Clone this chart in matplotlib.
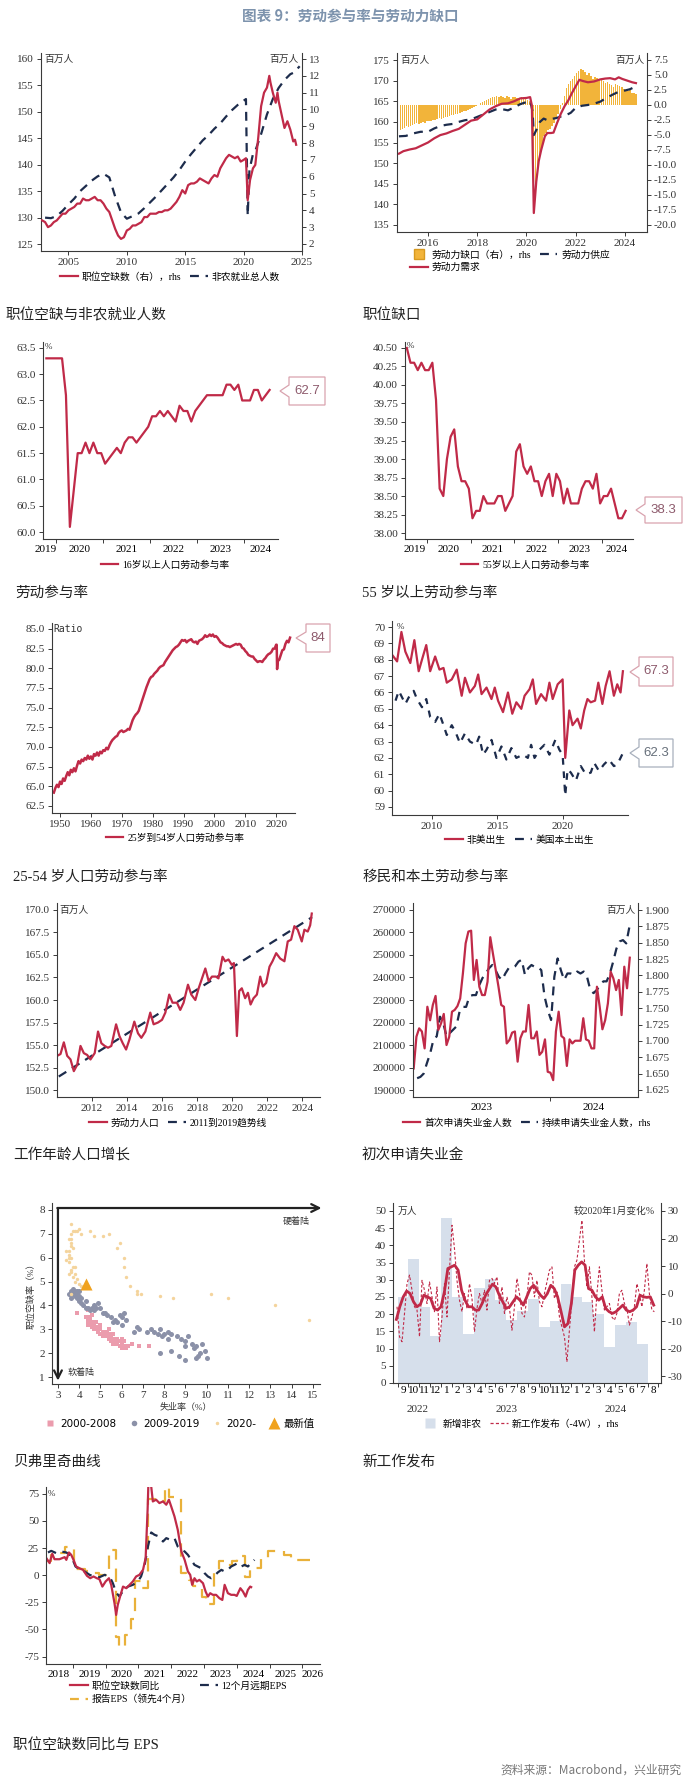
import numpy as np
import matplotlib
matplotlib.use('Agg')
import matplotlib.pyplot as plt
from matplotlib.lines import Line2D
from matplotlib.patches import Polygon

plt.rcParams['font.family'] = ['Liberation Serif', 'Noto Sans CJK SC']
plt.rcParams['axes.unicode_minus'] = False

W, H = 700, 1786
RED = '#c02a48'
NAVY = '#1d2c4c'
ORANGE = '#f0b030'
SPINE = '#3a3a3a'
PINK_EDGE = '#d9a3ae'

# ---------------- data ----------------
# panel 1: job openings (rhs) and nonfarm payrolls, millions
job_openings = [(2002.75, 3.4), (2003.0, 3.3), (2003.25, 3.0), (2003.5, 3.1), (2003.75, 3.3), (2004.0, 3.4),
                (2004.25, 3.6), (2004.5, 3.8), (2004.75, 3.8), (2005.0, 4.0), (2005.25, 4.1), (2005.5, 4.2),
                (2005.75, 4.4), (2006.0, 4.4), (2006.25, 4.7), (2006.5, 4.6), (2006.75, 4.6), (2007.0, 4.7),
                (2007.25, 4.8), (2007.5, 4.6), (2007.75, 4.6), (2008.0, 4.4), (2008.25, 4.1), (2008.5, 3.9),
                (2008.75, 3.4), (2009.0, 2.9), (2009.25, 2.5), (2009.5, 2.3), (2009.75, 2.4), (2010.0, 2.8),
                (2010.25, 2.9), (2010.5, 3.1), (2010.75, 3.1), (2011.0, 3.2), (2011.25, 3.3), (2011.5, 3.6),
                (2011.75, 3.6), (2012.0, 3.8), (2012.25, 3.8), (2012.5, 3.8), (2012.75, 3.9), (2013.0, 3.9),
                (2013.25, 4.0), (2013.5, 4.0), (2013.75, 4.1), (2014.0, 4.3), (2014.25, 4.5), (2014.5, 4.8),
                (2014.75, 5.2), (2015.0, 5.0), (2015.25, 5.5), (2015.5, 5.6), (2015.75, 5.6), (2016.0, 5.7),
                (2016.25, 5.9), (2016.5, 5.8), (2016.75, 5.7), (2017.0, 5.6), (2017.25, 5.9), (2017.5, 6.1),
                (2017.75, 6.0), (2018.0, 6.5), (2018.25, 6.8), (2018.5, 7.1), (2018.75, 7.3), (2019.0, 7.2),
                (2019.25, 7.1), (2019.5, 7.2), (2019.75, 6.9), (2020.0, 7.0), (2020.2, 7.1), (2020.35, 4.6),
                (2020.55, 5.8), (2020.8, 6.5), (2021.0, 6.7), (2021.25, 8.3), (2021.5, 10.2), (2021.75, 11.0),
                (2022.0, 11.3), (2022.2, 12.0), (2022.3, 11.6), (2022.5, 11.0), (2022.75, 10.4), (2022.9, 11.0),
                (2023.0, 10.5), (2023.25, 9.7), (2023.5, 8.9), (2023.75, 9.3), (2024.0, 8.8), (2024.25, 8.1),
                (2024.4, 8.2), (2024.5, 7.9)]
payrolls = [(2003.0, 130.0), (2003.5, 129.9), (2004.0, 130.3), (2004.5, 131.3), (2005.0, 132.5), (2005.5, 133.6),
            (2006.0, 135.0), (2006.5, 136.0), (2007.0, 137.0), (2007.5, 137.8), (2008.0, 138.3), (2008.5, 137.6),
            (2009.0, 134.0), (2009.5, 131.0), (2010.0, 129.8), (2010.5, 130.3), (2011.0, 130.8), (2011.5, 131.8),
            (2012.0, 132.9), (2012.5, 134.0), (2013.0, 135.2), (2013.5, 136.4), (2014.0, 137.6), (2014.5, 139.0),
            (2015.0, 140.6), (2015.5, 142.0), (2016.0, 143.3), (2016.5, 144.6), (2017.0, 145.6), (2017.5, 146.8),
            (2018.0, 147.8), (2018.5, 149.1), (2019.0, 150.3), (2019.5, 151.3), (2020.2, 152.4), (2020.35, 130.4),
            (2020.5, 139.0), (2020.8, 142.0), (2021.0, 142.6), (2021.5, 145.8), (2022.0, 149.5), (2022.5, 152.4),
            (2023.0, 154.5), (2023.5, 156.0), (2024.0, 157.1), (2024.3, 157.4), (2024.8, 158.6)]

# panel 2: labour demand / supply (millions) and monthly gap (rhs) from Nov 2014
labour_demand = [(2014.82, 152.3), (2015.0, 152.9), (2015.25, 153.3), (2015.5, 153.6), (2015.75, 154.3),
                 (2016.0, 155.0), (2016.25, 156.0), (2016.5, 156.8), (2016.75, 157.2), (2017.0, 157.8),
                 (2017.25, 158.3), (2017.5, 159.3), (2017.75, 160.3), (2018.0, 160.6), (2018.25, 161.8),
                 (2018.5, 163.0), (2018.75, 163.8), (2019.0, 164.4), (2019.25, 164.5), (2019.5, 165.0),
                 (2019.75, 165.7), (2020.0, 165.8), (2020.15, 166.0), (2020.22, 164.0), (2020.3, 137.9),
                 (2020.4, 145.5), (2020.5, 150.5), (2020.6, 153.2), (2020.75, 156.5), (2020.85, 157.3),
                 (2021.0, 157.3), (2021.1, 157.4), (2021.25, 159.8), (2021.4, 162.0), (2021.55, 163.8),
                 (2021.7, 165.2), (2021.85, 167.0), (2022.0, 168.6), (2022.15, 170.2), (2022.3, 169.9),
                 (2022.5, 169.6), (2022.75, 169.8), (2023.0, 170.3), (2023.2, 170.5), (2023.4, 170.6),
                 (2023.6, 170.3), (2023.75, 170.8), (2023.9, 170.4), (2024.1, 170.0), (2024.3, 169.6),
                 (2024.45, 169.4)]
labour_supply = [(2014.82, 156.5), (2015.1, 156.6), (2015.4, 157.2), (2015.7, 157.6), (2016.0, 157.6),
                 (2016.25, 158.4), (2016.5, 159.0), (2016.75, 159.3), (2017.0, 159.5), (2017.25, 160.0),
                 (2017.5, 160.4), (2017.75, 160.6), (2018.0, 161.2), (2018.25, 161.8), (2018.5, 162.4),
                 (2018.75, 163.0), (2019.0, 163.1), (2019.25, 162.8), (2019.5, 163.5), (2019.75, 164.3),
                 (2020.0, 164.8), (2020.15, 165.2), (2020.25, 162.5), (2020.3, 156.8), (2020.4, 158.0),
                 (2020.55, 160.0), (2020.7, 160.8), (2020.85, 160.4), (2021.0, 160.7), (2021.2, 160.9),
                 (2021.4, 161.3), (2021.6, 161.6), (2021.8, 162.2), (2022.0, 163.4), (2022.25, 163.9),
                 (2022.5, 164.1), (2022.75, 164.4), (2023.0, 164.9), (2023.25, 165.8), (2023.5, 166.6),
                 (2023.75, 167.3), (2024.0, 167.6), (2024.2, 167.9), (2024.45, 168.6)]
labour_gap = [-4.3, -4.0,
              -3.9, -3.6, -3.8, -3.5, -3.4, -3.3, -3.1, -3.2, -3.0, -2.9, -3.0, -2.8,
              -2.8, -2.7, -2.5, -2.6, -2.4, -2.3, -2.4, -2.2, -2.0, -2.1, -1.9, -1.8,
              -1.7, -1.6, -1.5, -1.4, -1.3, -1.1, -1.0, -0.9, -0.8, -0.6, -0.4, -0.3,
              0.0, 0.2, 0.4, 0.6, 0.8, 1.0, 1.1, 1.2, 1.3, 1.4, 1.2, 1.5,
              1.3, 1.1, 1.4, 1.2, 1.0, 1.3, 1.2, 1.1, 1.0, 1.2, 1.0, 0.9,
              0.8, 0.6, -1.5, -18.0, -14.5, -11.0, -8.5, -6.8, -5.2, -4.8, -4.2, -4.0,
              -3.6, -3.0, -2.2, -1.5, -0.8, 0.3, 1.5, 2.8, 3.5, 4.0, 4.3, 4.8,
              5.2, 5.6, 6.0, 5.8, 5.4, 5.0, 5.2, 4.8, 4.2, 4.6, 4.4, 4.1,
              4.3, 4.0, 3.6, 3.8, 3.4, 3.2, 3.0, 3.4, 3.3, 3.1, 2.9, 2.6,
              2.5, 2.2, 2.4, 2.0, 1.9, 1.7]

# panel 3: participation rate 16+, monthly from Oct 2019
lfpr_16 = [63.3, 63.3, 63.3,
           63.3, 63.3, 62.6, 60.1, 60.8, 61.5, 61.5, 61.7, 61.5, 61.7, 61.5, 61.5,
           61.3, 61.4, 61.5, 61.6, 61.5, 61.7, 61.8, 61.8, 61.7, 61.8, 61.9, 62.0,
           62.2, 62.2, 62.3, 62.2, 62.3, 62.2, 62.1, 62.4, 62.3, 62.3, 62.1, 62.3,
           62.4, 62.5, 62.6, 62.6, 62.6, 62.6, 62.6, 62.8, 62.8, 62.7, 62.8, 62.5,
           62.5, 62.5, 62.7, 62.7, 62.5, 62.6, 62.7]

# panel 4: participation rate 55+, monthly from Jul 2019
lfpr_55 = [40.5, 40.3, 40.3, 40.2, 40.3, 40.2,
           40.2, 40.3, 39.8, 38.6, 38.5, 39.0, 39.3, 39.4, 38.9, 38.7, 38.7, 38.6,
           38.2, 38.3, 38.3, 38.5, 38.4, 38.4, 38.4, 38.5, 38.5, 38.3, 38.4, 38.5,
           39.1, 39.2, 38.9, 38.8, 38.9, 38.7, 38.7, 38.5, 38.7, 38.8, 38.5, 38.8,
           38.7, 38.4, 38.6, 38.4, 38.4, 38.4, 38.6, 38.7, 38.7, 38.6, 38.8, 38.4,
           38.5, 38.5, 38.6, 38.4, 38.2, 38.2, 38.3]

# panel 5: prime-age (25-54) participation rate
lfpr_prime = [(1948.0, 64.2), (1948.5, 64.8), (1949.0, 65.2), (1949.5, 64.9), (1950.0, 65.6), (1950.5, 65.3),
              (1951.0, 66.0), (1951.5, 65.7), (1952.0, 66.3), (1952.5, 66.8), (1953.0, 66.4), (1953.5, 67.1),
              (1954.0, 66.8), (1954.5, 67.3), (1955.0, 66.9), (1955.5, 67.6), (1956.0, 68.2), (1956.5, 67.9),
              (1957.0, 68.4), (1957.5, 68.2), (1958.0, 68.6), (1958.5, 68.4), (1959.0, 68.9), (1959.5, 68.5),
              (1960.0, 68.8), (1960.5, 68.4), (1961.0, 69.1), (1961.5, 68.9), (1962.0, 69.3), (1962.5, 68.9),
              (1963.0, 69.4), (1963.5, 69.2), (1964.0, 69.6), (1964.5, 69.5), (1965.0, 69.9), (1965.5, 69.7),
              (1966.0, 70.2), (1966.5, 70.6), (1967.0, 70.9), (1967.5, 71.1), (1968.0, 71.3), (1968.5, 71.4),
              (1969.0, 71.8), (1969.5, 72.0), (1970.0, 72.1), (1970.5, 71.9), (1971.0, 72.0), (1971.5, 72.1),
              (1972.0, 72.3), (1972.5, 72.2), (1973.0, 72.8), (1973.5, 73.4), (1974.0, 73.8), (1974.5, 74.1),
              (1975.0, 74.3), (1975.5, 74.6), (1976.0, 75.2), (1976.5, 75.8), (1977.0, 76.4), (1977.5, 77.0),
              (1978.0, 77.6), (1978.5, 78.1), (1979.0, 78.6), (1979.5, 78.9), (1980.0, 79.0), (1980.5, 79.3),
              (1981.0, 79.5), (1981.5, 79.7), (1982.0, 80.0), (1982.5, 80.2), (1983.0, 80.3), (1983.5, 80.4),
              (1984.0, 80.8), (1984.5, 81.1), (1985.0, 81.4), (1985.5, 81.7), (1986.0, 82.0), (1986.5, 82.3),
              (1987.0, 82.5), (1987.5, 82.7), (1988.0, 82.8), (1988.5, 83.0), (1989.0, 83.3), (1989.5, 83.6),
              (1990.0, 83.5), (1990.5, 83.6), (1991.0, 83.3), (1991.5, 83.5), (1992.0, 83.6), (1992.5, 83.7),
              (1993.0, 83.4), (1993.5, 83.3), (1994.0, 83.4), (1994.5, 83.1), (1995.0, 83.5), (1995.5, 83.6),
              (1996.0, 83.7), (1996.5, 83.9), (1997.0, 84.2), (1997.5, 84.0), (1998.0, 84.1), (1998.5, 84.3),
              (1999.0, 84.1), (1999.5, 84.3), (2000.0, 84.0), (2000.5, 84.1), (2001.0, 83.9), (2001.5, 83.6),
              (2002.0, 83.3), (2002.5, 83.2), (2003.0, 83.0), (2003.5, 82.9), (2004.0, 82.8), (2004.5, 82.8),
              (2005.0, 82.7), (2005.5, 82.8), (2006.0, 82.9), (2006.5, 83.0), (2007.0, 83.1), (2007.5, 83.0),
              (2008.0, 83.1), (2008.5, 83.0), (2009.0, 82.6), (2009.5, 82.5), (2010.0, 82.2), (2010.5, 82.0),
              (2011.0, 81.7), (2011.5, 81.6), (2012.0, 81.5), (2012.5, 81.5), (2013.0, 81.2), (2013.5, 81.0),
              (2014.0, 80.8), (2014.5, 80.9), (2015.0, 80.9), (2015.5, 80.8), (2016.0, 81.1), (2016.5, 81.3),
              (2017.0, 81.6), (2017.5, 81.8), (2018.0, 81.9), (2018.5, 82.1), (2019.0, 82.5), (2019.5, 82.5),
              (2020.0, 83.0), (2020.17, 83.0), (2020.3, 79.9), (2020.5, 80.9), (2021.0, 81.1), (2021.5, 81.7),
              (2022.0, 82.3), (2022.5, 82.4), (2023.0, 83.1), (2023.5, 83.5), (2024.0, 83.3), (2024.5, 83.9)]

# panel 6: foreign-born vs native-born participation rate
foreign_born = [(2006.96, 68.3), (2007.34, 67.9), (2007.67, 69.7), (2007.97, 68.5), (2008.35, 67.8), (2008.66, 69.2),
                (2008.99, 67.3), (2009.24, 68.0), (2009.57, 68.9), (2009.87, 67.3), (2010.25, 68.2), (2010.58, 67.4),
                (2010.89, 67.5), (2011.14, 66.6), (2011.52, 66.8), (2011.90, 67.4), (2012.28, 65.8), (2012.53, 66.9),
                (2012.91, 66.0), (2013.29, 66.4), (2013.54, 67.1), (2013.80, 65.9), (2014.18, 66.3), (2014.56, 65.6),
                (2014.81, 66.3), (2015.06, 65.5), (2015.44, 64.8), (2015.82, 66.0), (2016.15, 64.7), (2016.46, 65.4),
                (2016.84, 65.0), (2017.09, 65.8), (2017.47, 66.2), (2017.72, 66.8), (2017.97, 65.3), (2018.35, 65.9),
                (2018.73, 65.5), (2018.99, 66.6), (2019.24, 65.6), (2019.62, 66.5), (2020.00, 66.8), (2020.20, 62.0),
                (2020.51, 64.9), (2020.76, 64.0), (2021.14, 64.4), (2021.39, 63.8), (2021.65, 64.9), (2021.90, 65.6),
                (2022.15, 65.4), (2022.48, 65.5), (2022.73, 66.6), (2023.04, 65.3), (2023.29, 66.4), (2023.59, 67.3),
                (2023.92, 65.8), (2024.18, 66.5), (2024.43, 66.0), (2024.61, 67.3)]
native_born = [(2007.22, 65.5), (2007.47, 66.1), (2007.72, 65.7), (2007.97, 65.3), (2008.23, 65.7), (2008.61, 66.1),
               (2008.86, 65.6), (2009.24, 65.1), (2009.57, 65.6), (2009.87, 64.5), (2010.25, 64.2), (2010.58, 64.7),
               (2010.89, 64.0), (2011.14, 63.4), (2011.52, 64.0), (2011.85, 63.5), (2012.15, 62.9), (2012.53, 63.5),
               (2012.91, 63.0), (2013.37, 62.8), (2013.62, 63.3), (2013.92, 62.2), (2014.18, 62.5), (2014.56, 63.1),
               (2014.94, 62.0), (2015.32, 62.7), (2015.70, 61.9), (2016.08, 62.6), (2016.46, 62.0), (2016.96, 62.2),
               (2017.34, 62.0), (2017.59, 62.8), (2017.85, 62.0), (2018.23, 62.5), (2018.61, 62.8), (2018.99, 62.2),
               (2019.44, 63.1), (2019.75, 62.5), (2020.00, 62.2), (2020.20, 59.7), (2020.38, 61.3), (2020.63, 61.1),
               (2021.01, 60.6), (2021.39, 61.5), (2021.77, 61.0), (2022.15, 61.1), (2022.41, 61.7), (2022.78, 61.2),
               (2023.16, 61.6), (2023.54, 61.9), (2023.92, 61.5), (2024.18, 61.6), (2024.43, 62.0), (2024.61, 62.3)]

# panel 7: labour force (millions) and 2011-2019 trend line end points
labour_force = [(2010.01, 153.8), (2010.20, 154.0), (2010.39, 155.3), (2010.58, 153.8), (2010.77, 153.4),
                (2010.96, 152.1), (2011.15, 152.8), (2011.34, 154.9), (2011.53, 154.1), (2011.72, 153.9),
                (2011.91, 153.4), (2012.15, 154.1), (2012.34, 156.5), (2012.53, 155.2), (2012.72, 154.9),
                (2012.91, 154.7), (2013.10, 154.9), (2013.37, 157.3), (2013.56, 156.0), (2013.75, 155.2),
                (2013.94, 154.5), (2014.13, 155.6), (2014.41, 157.6), (2014.62, 156.3), (2014.81, 155.8),
                (2015.04, 156.5), (2015.32, 158.6), (2015.51, 157.3), (2015.76, 157.5), (2015.99, 157.8),
                (2016.18, 158.6), (2016.40, 160.6), (2016.59, 159.7), (2016.84, 159.7), (2017.03, 158.9),
                (2017.22, 159.7), (2017.47, 161.7), (2017.66, 160.6), (2017.89, 160.0), (2018.08, 161.3),
                (2018.46, 163.5), (2018.65, 162.1), (2018.84, 162.6), (2019.06, 162.6), (2019.21, 162.4),
                (2019.44, 164.8), (2019.59, 164.3), (2019.78, 164.5), (2019.97, 163.9), (2020.09, 164.1),
                (2020.26, 156.0), (2020.39, 161.0), (2020.54, 161.3), (2020.73, 160.2), (2020.89, 160.8),
                (2021.04, 159.5), (2021.21, 160.2), (2021.40, 160.6), (2021.59, 162.6), (2021.74, 161.5),
                (2021.93, 161.9), (2022.12, 163.7), (2022.29, 164.3), (2022.50, 165.2), (2022.73, 164.6),
                (2022.97, 164.3), (2023.16, 166.5), (2023.35, 166.7), (2023.54, 168.2), (2023.73, 167.8),
                (2023.96, 166.5), (2024.11, 167.8), (2024.30, 167.6), (2024.44, 168.3), (2024.53, 169.6)]
trend_line = [(2010.1, 151.5), (2024.55, 169.2)]

# panel 8: weekly claims, Jan 2023 - Jul 2024
initial_claims = [199600, 213700, 217400, 216000, 208500, 227000, 221000, 227800, 231800, 216700, 219600,
                  223800, 210000, 213700, 224800, 225600, 227300, 230700, 241900, 255200, 260400, 260800,
                  238900, 247800, 235900, 232200, 232200, 238100, 257900, 250400, 243300, 235900, 227800,
                  227000, 210700, 212200, 215500, 216000, 202600, 213000, 216000, 216000, 227800, 213000,
                  213000, 216000, 205600, 207000, 212500, 198100, 197700, 194400, 216000, 224800, 214000,
                  213000, 200700, 212500, 210700, 211900, 211900, 211900, 221900, 212500, 211900, 208500,
                  208500, 235900, 227000, 217000, 221000, 228500, 242600, 239600, 234400, 238900, 223300,
                  244800, 235200, 248800]
continuing_claims = [1.643, 1.645, 1.650, 1.666, 1.681, 1.702, 1.707, 1.737, 1.727, 1.707, 1.712, 1.717, 1.722,
                     1.745, 1.752, 1.752, 1.768, 1.770, 1.770, 1.785, 1.796, 1.803, 1.811, 1.816, 1.808, 1.798,
                     1.793, 1.803, 1.811, 1.811, 1.814, 1.821, 1.824, 1.801, 1.811, 1.816, 1.813, 1.813, 1.808,
                     1.768, 1.747, 1.732, 1.798, 1.826, 1.808, 1.793, 1.803, 1.803, 1.801, 1.806, 1.803, 1.806,
                     1.798, 1.778, 1.773, 1.778, 1.785, 1.791, 1.791, 1.803, 1.821, 1.841, 1.852, 1.854, 1.849,
                     1.875]

# panel 9: Beveridge curve (unemployment rate, job openings rate)
bev_2000_2008 = [(3.9, 3.7), (4.4, 3.8), (4.3, 3.5), (4.4, 3.3), (4.4, 3.2), (4.5, 3.4), (4.5, 3.2), (4.6, 3.3),
                 (4.6, 3.1), (4.7, 3.2), (4.7, 3.0), (4.8, 3.1), (4.8, 3.3), (4.9, 3.0), (4.9, 2.9), (5.0, 3.0),
                 (5.0, 2.8), (5.0, 3.1), (5.1, 2.9), (5.1, 2.7), (5.2, 2.9), (5.2, 2.8), (5.3, 2.7), (5.3, 2.9),
                 (5.4, 2.6), (5.4, 2.8), (5.5, 2.7), (5.5, 2.5), (5.6, 2.6), (5.6, 2.4), (5.7, 2.6), (5.7, 2.5),
                 (5.8, 2.4), (5.8, 2.6), (5.9, 2.5), (5.9, 2.3), (6.0, 2.4), (6.0, 2.6), (6.1, 2.3), (6.2, 2.2),
                 (6.3, 2.3), (5.8, 2.5), (6.5, 2.4), (6.8, 2.3), (7.3, 2.3), (4.5, 3.5), (4.6, 3.6), (4.4, 3.4),
                 (4.7, 3.3), (5.0, 3.2), (5.4, 3.0), (5.6, 2.8), (6.1, 2.5), (6.0, 2.2)]
bev_2009_2019 = [(3.5, 4.5), (3.6, 4.6), (3.6, 4.3), (3.7, 4.5), (3.7, 4.7), (3.8, 4.6), (3.8, 4.4), (3.9, 4.5),
                 (3.9, 4.6), (4.0, 4.2), (4.0, 4.4), (4.1, 4.1), (4.1, 4.3), (4.2, 4.0), (4.3, 3.9), (4.4, 3.9),
                 (4.6, 3.9), (4.7, 3.8), (4.7, 4.0), (4.9, 4.1), (5.0, 3.9), (5.1, 3.7), (5.3, 3.6), (5.5, 3.5),
                 (5.6, 3.3), (5.7, 3.4), (5.8, 3.3), (6.0, 3.2), (6.0, 3.5), (6.1, 3.7), (6.2, 3.4), (6.7, 3.1),
                 (6.6, 2.9), (6.8, 3.0), (7.2, 2.9), (7.4, 3.0), (7.5, 2.9), (7.7, 2.8), (7.8, 3.0), (7.9, 2.7),
                 (8.0, 2.8), (8.2, 2.9), (8.3, 2.8), (8.2, 2.6), (8.6, 2.7), (8.8, 2.6), (9.0, 2.5), (9.1, 2.7),
                 (9.0, 2.3), (9.3, 2.4), (9.4, 2.2), (9.5, 2.3), (9.6, 1.9), (9.8, 2.4), (9.9, 2.1), (10.0, 1.8),
                 (9.5, 1.8), (9.0, 1.7), (8.7, 1.9), (8.3, 2.1), (7.8, 2.0), (9.7, 2.0), (4.5, 3.8), (4.8, 3.9),
                 (5.2, 3.7), (3.9, 4.3), (4.0, 4.6), (4.3, 4.2), (5.9, 3.6)]
bev_2020_on = [(3.6, 4.5), (14.8, 3.4), (13.2, 4.0), (11.0, 4.3), (10.2, 4.5), (8.4, 4.3), (7.8, 4.4), (6.9, 4.5),
               (6.7, 4.6), (6.7, 4.5), (6.4, 4.8), (6.2, 5.2), (6.1, 5.6), (6.1, 6.0), (5.8, 6.4), (5.9, 6.6),
               (5.4, 7.0), (5.1, 6.9), (4.7, 6.9), (4.5, 7.1), (4.1, 7.0), (3.9, 7.1), (4.0, 7.2), (3.8, 7.1),
               (3.6, 7.4), (3.7, 7.1), (3.6, 7.0), (3.6, 6.8), (3.5, 6.8), (3.6, 6.5), (3.5, 6.3), (3.7, 6.4),
               (3.6, 6.6), (3.5, 6.1), (3.4, 6.3), (3.6, 6.0), (3.5, 5.8), (3.4, 5.9), (3.7, 5.6), (3.6, 5.4),
               (3.5, 5.3), (3.8, 5.6), (3.8, 5.3), (3.7, 5.2), (3.9, 5.1), (3.8, 5.0), (4.0, 4.9), (4.1, 4.8),
               (3.5, 6.0), (3.6, 5.5)]
bev_latest = (4.3, 4.9)

# panel 10: monthly NFP (10k, Sep 2022 - Jul 2024) and job postings change (rhs, %)
nfp_month_labels = ['9', '10', '11', '12', '1', '2', '3', '4', '5', '6', '7', '8',
                    '9', '10', '11', '12', '1', '2', '3', '4', '5', '6', '7', '8']
nfp_bars = [25, 36, 22, 13.6, 48, 25, 14.3, 27.6, 30.1, 24, 18.4, 21, 24.5, 16.3, 17.9, 28.9,
            25, 23.4, 20, 10.5, 16.8, 17.7, 11.2]
postings_smooth = [-9.4, -4.8, -1.2, 0.9, 0, -3, -4.8, -3.9, -0.6, -1.2, -1.8, -5.4, -6.0, -4.8, 0.6, 9.1, 9.7,
                   10.3, 8.5, 1.2, -2.4, -4.8, -4.8, -6.0, -6.0, -3.6, -0.6, 1.5, 3.4, 2.4, -0.6, -3.0, -5.4,
                   -4.8, -3.0, -1.2, -2.4, -4.2, -1.2, 1.8, 3.0, 1.2, -0.6, -1.8, 0, 3.0, 1.8, -1.2, -6.6,
                   -12.1, -10.9, -3.6, 8.5, 10.3, 11.5, 10.3, 1.8, 1.2, -1.2, -2.4, -1.2, -5.4, -6.6, -7.2,
                   -6.6, -5.4, -4.2, -6.0, -6.6, -6.0, -4.8, -0.6, -1.2, -1.4, -1.2, -4.2]
postings_weekly = [-4.8, -15.7, -17.5, -7.2, 3.6, 6.7, 1.2, -4.8, -6.0, -15.7, 4.8, 1.2, -3.6, 4.2, -1.2, -6.6,
                   2.4, -17.5, -8.5, 3.6, -8.5, 8.5, 24.8, 16.3, 4.8, -2.4, -6.6, 0, -5.4, 3.6, -1.8, -13.9,
                   -5.4, 0, -3.6, 1.2, -6.0, 4.8, 5.5, 3.6, 6.1, -3.6, 2.4, -7.2, -1.2, -5.4, -13.3, -4.8, 5.5,
                   0, -7.2, -8.5, -1.2, 7.9, 6.7, -1.2, 4.8, -3.0, -4.8, 0, 4.2, 8.5, 9.7, -1.8, 0.6, -8.5,
                   -12.1, -15.7, -24.8, -13.3, -2.4, 9.7, 12.1, 19.4, 26.6, 12.1, 2.4, 9.7, -1.2, -13.9, 0, 9.7,
                   1.2, -6.0, -4.8, -3.6, -8.5, -9.7, -7.2, 0, 1.2, -3.6, -5.4, -11.5, -8.5, -4.8, 3.6, 0,
                   -4.8, 1.2, 10.9, 0, -6.0, -6.6]

# panel 11: job openings YoY vs EPS
openings_yoy = [(2018.19, 15.7), (2018.29, 11.1), (2018.37, 19.7), (2018.44, 14.7), (2018.59, 14.7), (2018.75, 16.6),
                (2018.80, 14.1), (2018.88, 20.9), (2018.95, 18.7), (2019.02, 14.1), (2019.10, 8.0), (2019.20, 6.4),
                (2019.31, 4.9), (2019.43, -0.6), (2019.53, -2.8), (2019.63, -1.2), (2019.73, -2.8), (2019.81, -3.7),
                (2019.90, -10.5), (2020.00, -5.8), (2020.10, -2.8), (2020.17, -8.9), (2020.27, -25.8),
                (2020.32, -36.6), (2020.37, -27.3), (2020.44, -19.7), (2020.53, -10.5), (2020.63, -12.0),
                (2020.73, -8.9), (2020.83, -5.8), (2020.93, -1.2), (2021.03, 0.3), (2021.14, 4.9), (2021.22, 15.7),
                (2021.28, 60.2), (2021.31, 90.0), (2021.36, 90.0), (2021.44, 67.9), (2021.54, 69.5), (2021.64, 66.4),
                (2021.75, 67.9), (2021.85, 64.9), (2021.93, 69.5), (2022.00, 63.3), (2022.10, 54.1), (2022.20, 41.8),
                (2022.31, 21.8), (2022.41, 14.1), (2022.51, 3.4), (2022.58, 0.3), (2022.64, -8.9), (2022.71, -2.8),
                (2022.78, -5.8), (2022.86, -4.3), (2022.97, -7.4), (2023.05, -15.1), (2023.12, -19.7),
                (2023.19, -16.6), (2023.27, -18.1), (2023.37, -18.1), (2023.47, -21.2), (2023.56, -22.8),
                (2023.63, -8.9), (2023.73, -16.6), (2023.83, -18.1), (2023.93, -18.1), (2024.00, -19.1),
                (2024.11, -12.0), (2024.19, -15.1), (2024.27, -19.7), (2024.34, -13.5), (2024.41, -10.5),
                (2024.44, -11.0)]
fwd_eps = [(2018.24, 20.9), (2018.34, 22.4), (2018.49, 20.3), (2018.64, 21.8), (2018.80, 20.9), (2018.95, 17.8),
           (2019.08, 8.0), (2019.20, 5.5), (2019.36, 3.4), (2019.51, 0.3), (2019.66, -1.2), (2019.81, -1.9),
           (2019.97, 0.3), (2020.12, -1.2), (2020.22, -7.4), (2020.32, -16.0), (2020.42, -19.7), (2020.55, -13.5),
           (2020.68, -10.5), (2020.83, -8.9), (2020.98, -5.8), (2021.08, -1.2), (2021.19, 9.5), (2021.29, 26.4),
           (2021.39, 39.3), (2021.49, 37.2), (2021.62, 35.7), (2021.75, 31.0), (2021.85, 34.1), (2021.97, 32.6),
           (2022.10, 34.1), (2022.20, 26.4), (2022.31, 23.4), (2022.41, 21.8), (2022.51, 18.7), (2022.61, 14.1),
           (2022.71, 9.5), (2022.81, 8.0), (2022.92, 6.4), (2023.02, 1.8), (2023.12, -1.2), (2023.22, -2.8),
           (2023.32, -0.6), (2023.42, 2.5), (2023.53, 4.9), (2023.63, 3.4), (2023.73, 4.9), (2023.83, 8.0),
           (2023.93, 9.5), (2024.03, 11.1), (2024.14, 8.0), (2024.24, 9.5), (2024.34, 8.0), (2024.44, 11.1),
           (2024.54, 14.1)]
reported_eps = [(2018.19, 12.6), (2018.34, 18.7), (2018.54, 20.3), (2018.75, 25.8), (2019.02, 11.1), (2019.10, 6.0),
                (2019.36, 3.4), (2019.56, 1.8), (2019.81, 0.3), (2020.02, 4.9), (2020.10, 23.4), (2020.32, -57.0),
                (2020.42, -66.0), (2020.60, -55.0), (2020.78, -40.0), (2020.90, -5.0), (2021.12, -12.0),
                (2021.28, 70.0), (2021.50, 68.0), (2021.80, 81.0), (2021.92, 72.0), (2022.30, 2.0), (2022.45, -1.0),
                (2022.55, -4.0), (2022.65, -10.0), (2022.95, -20.0), (2023.07, -27.0), (2023.30, 5.0),
                (2023.45, 13.0), (2023.68, 9.0), (2023.85, 13.0), (2024.00, 18.0), (2024.25, -2.0), (2024.40, 7.0),
                (2024.75, 16.0), (2024.95, 22.0), (2025.20, 22.0), (2025.45, 19.0), (2025.65, 16.0),
                (2025.85, 14.0), (2026.25, 14.0)]


# ---------------- helpers ----------------
def xy(pairs):
    a = np.array(pairs, dtype=float)
    return a[:, 0], a[:, 1]


def months(year0, month0, n):
    return year0 + (month0 - 0.5 + np.arange(n)) / 12


def add_ax(l, t, r, b):
    return fig.add_axes([l / W, 1 - b / H, (r - l) / W, (b - t) / H])


def style(ax):
    for s in ['top', 'right']:
        ax.spines[s].set_visible(False)
    for s in ['left', 'bottom']:
        ax.spines[s].set_color(SPINE)
        ax.spines[s].set_linewidth(0.8)
    ax.tick_params(labelsize=8, length=3, width=0.7, color=SPINE, labelcolor='#333333', pad=2)
    ax.patch.set_visible(False)


def style_right(ax2):
    for s in ['top', 'left', 'bottom']:
        ax2.spines[s].set_visible(False)
    ax2.spines['right'].set_color(SPINE)
    ax2.spines['right'].set_linewidth(0.8)
    ax2.tick_params(labelsize=8, length=3, width=0.7, color=SPINE, labelcolor='#333333', pad=2)


def ftext(x, y, s, **kw):
    kw.setdefault('fontsize', 7)
    kw.setdefault('va', 'center')
    kw.setdefault('color', '#333333')
    fig.text(x / W, 1 - y / H, s, **kw)


def legend(handles, labels, x, y, ncol, loc='center'):
    fig.legend(handles, labels, loc=loc, bbox_to_anchor=(x / W, 1 - y / H), ncol=ncol,
               frameon=False, fontsize=7, handlelength=1.8, handletextpad=0.4,
               columnspacing=0.9, borderaxespad=0, borderpad=0, labelspacing=0.35)


def callout(x_tip, y_mid, x0, x1, y0, y1, txt, ec, tc):
    pts = [(x0, y0), (x1, y0), (x1, y1), (x0, y1), (x0, y_mid + 6), (x_tip, y_mid), (x0, y_mid - 6)]
    pts = [(px / W, 1 - py / H) for px, py in pts]
    fig.add_artist(Polygon(pts, closed=True, transform=fig.transFigure, fc='white', ec=ec, lw=0.9))
    ftext((x0 + x1) / 2, (y0 + y1) / 2, txt, ha='center', fontsize=9.5, color=tc,
          family=['Liberation Sans', 'Noto Sans CJK SC'])


def mid_year_labels(ax, ticks, pos, labels):
    ax.set_xticks(ticks)
    ax.set_xticklabels([])
    ax.set_xticks(pos, minor=True)
    ax.set_xticklabels(labels, minor=True)
    ax.tick_params(axis='x', which='minor', length=0, labelsize=8, pad=4)


red_h = lambda: Line2D([], [], color=RED, lw=1.6)
navy_h = lambda: Line2D([], [], color=NAVY, lw=1.6, dashes=(4, 3))

fig = plt.figure(figsize=(W / 100, H / 100), dpi=100)

ftext(350, 15, '图表 9：劳动参与率与劳动力缺口', ha='center', fontsize=10.5, weight='bold',
      color='#7d93ad', family=['Noto Sans CJK SC'])

# ---------------- panel 1 ----------------
ax = add_ax(41, 53, 302, 251)
style(ax)
px, pv = xy(payrolls)
ax.plot(px, pv, color=NAVY, lw=1.6, dashes=(4, 3))
ax.set_xlim(2002.65, 2025)
ax.set_ylim(123.7, 161.1)
ax.set_yticks(range(125, 161, 5))
ax.set_xticks([2005, 2010, 2015, 2020, 2025])
ax2 = ax.twinx()
style_right(ax2)
jx, jv = xy(job_openings)
ax2.plot(jx, jv, color=RED, lw=1.6)
ax2.set_ylim(1.58, 13.36)
ax2.set_yticks(range(2, 14))
ftext(44, 59, '百万人')
ftext(299, 59, '百万人', ha='right')
legend([red_h(), navy_h()], ['职位空缺数（右），rhs', '非农就业总人数'], 170, 277, 2)
ftext(5, 315, '职位空缺与非农就业人数', fontsize=10.5, color='#222222')

# ---------------- panel 2 ----------------
axl = add_ax(397, 53, 647, 232)
axb = axl.twinx()
style(axl)
style_right(axb)
axl.set_zorder(axb.get_zorder() + 1)
gx = months(2014, 11, len(labour_gap))
axb.bar(gx, labour_gap, width=0.062, color='#f2b43a', lw=0)
axb.set_ylim(-21.2, 8.6)
axb.set_yticks(np.arange(-20, 7.6, 2.5))
axb.set_yticklabels([f'{v:.1f}' for v in np.arange(-20, 7.6, 2.5)])
sx, sv = xy(labour_supply)
dx, dv = xy(labour_demand)
axl.plot(sx, sv, color=NAVY, lw=1.6, dashes=(4, 3))
axl.plot(dx, dv, color=RED, lw=1.6)
axl.set_xlim(2014.74, 2024.9)
axl.set_ylim(133.3, 176.7)
axl.set_yticks(range(135, 176, 5))
axl.set_xticks(range(2016, 2025, 2))
ftext(400, 60, '百万人')
ftext(645, 60, '百万人', ha='right')
gap_h = Line2D([], [], ls='none', marker='s', ms=7, mfc='#f2b43a', mec='#d89a20')
legend([gap_h, red_h(), navy_h()], ['劳动力缺口（右），rhs', '劳动力需求', '劳动力供应'],
       410, 250, 2, loc='upper left')
ftext(362, 315, '职位缺口', fontsize=10.5, color='#222222')

# ---------------- panel 3 ----------------
ax = add_ax(43, 342, 278, 539)
style(ax)
ax.plot(months(2019, 10, len(lfpr_16)), lfpr_16, color=RED, lw=1.6)
ax.set_xlim(2019.72, 2024.72)
ax.set_ylim(59.87, 63.61)
ax.set_yticks(np.arange(60, 63.6, 0.5))
ax.set_yticklabels([f'{v:.1f}' for v in np.arange(60, 63.6, 0.5)])
mid_year_labels(ax, range(2020, 2025), [2019.77, 2020.5, 2021.5, 2022.5, 2023.5, 2024.34],
                ['2019', '2020', '2021', '2022', '2023', '2024'])
ftext(45, 347, '%', fontsize=6.5)
callout(280, 391, 289, 325, 377, 405, '62.7', PINK_EDGE, '#8d5a6c')
legend([red_h()], ['16岁以上人口劳动参与率'], 165, 565, 1)
ftext(15, 593, '劳动参与率', fontsize=10.5, color='#222222')

# ---------------- panel 4 ----------------
ax = add_ax(405, 342, 633, 539)
style(ax)
ax.plot(months(2019, 7, len(lfpr_55)), lfpr_55, color=RED, lw=1.6)
ax.set_xlim(2019.5, 2024.71)
ax.set_ylim(37.92, 40.58)
ax.set_yticks(np.arange(38, 40.51, 0.25))
ax.set_yticklabels([f'{v:.2f}' for v in np.arange(38, 40.51, 0.25)])
mid_year_labels(ax, range(2020, 2025), [2019.73, 2020.5, 2021.5, 2022.5, 2023.5, 2024.34],
                ['2019', '2020', '2021', '2022', '2023', '2024'])
ftext(407, 346, '%', fontsize=6.5)
callout(636, 510, 645, 682, 497, 523, '38.3', PINK_EDGE, '#8d5a6c')
legend([red_h()], ['55岁以上人口劳动参与率'], 525, 565, 1)
ftext(362, 593, '55 岁以上劳动参与率', fontsize=10.5, color='#222222')

# ---------------- panel 5 ----------------
ax = add_ax(52, 623, 295, 813)
style(ax)
rx, rv = xy(lfpr_prime)
ax.plot(rx, rv, color=RED, lw=1.8)
ax.set_xlim(1947.4, 2026.1)
ax.set_ylim(61.61, 85.76)
ax.set_yticks(np.arange(62.5, 85.1, 2.5))
ax.set_yticklabels([f'{v:.1f}' for v in np.arange(62.5, 85.1, 2.5)])
ax.set_xticks(range(1950, 2021, 10))
ftext(53, 629, 'Ratio', fontsize=7, family=['DejaVu Sans Mono'])
callout(296, 638, 306, 330, 624, 652, '84', PINK_EDGE, '#8d5a6c')
legend([red_h()], ['25岁到54岁人口劳动参与率'], 175, 838, 1)
ftext(13, 877, '25-54 岁人口劳动参与率', fontsize=10.5, color='#222222')

# ---------------- panel 6 ----------------
ax = add_ax(392, 621, 628, 815)
style(ax)
nx, nv = xy(native_born)
fx, fv = xy(foreign_born)
ax.plot(nx, nv, color=NAVY, lw=1.6, dashes=(3, 3))
ax.plot(fx, fv, color=RED, lw=1.6)
ax.set_xlim(2006.95, 2025.0)
ax.set_ylim(58.51, 70.37)
ax.set_yticks(range(59, 71))
ax.set_xticks([2010, 2015, 2020])
ftext(397, 627, '%', fontsize=6.5)
callout(630, 672, 639, 673, 657, 686, '67.3', PINK_EDGE, '#8d5a6c')
callout(630, 753, 639, 673, 739, 767, '62.3', '#a8b0bd', '#666f7a')
legend([red_h(), navy_h()], ['非美出生', '美国本土出生'], 520, 840, 2)
ftext(362, 877, '移民和本土劳动参与率', fontsize=10.5, color='#222222')

# ---------------- panel 7 ----------------
ax = add_ax(57, 903, 320, 1097)
style(ax)
tx, tv = xy(trend_line)
lx, lv = xy(labour_force)
ax.plot(tx, tv, color=NAVY, lw=1.6, dashes=(4, 3))
ax.plot(lx, lv, color=RED, lw=1.6)
ax.set_xlim(2010.0, 2025.0)
ax.set_ylim(149.23, 170.77)
ax.set_yticks(np.arange(150, 170.1, 2.5))
ax.set_yticklabels([f'{v:.1f}' for v in np.arange(150, 170.1, 2.5)])
ax.set_xticks(range(2012, 2025, 2))
ftext(59, 910, '百万人')
legend([red_h(), navy_h()], ['劳动力人口', '2011到2019趋势线'], 178, 1123, 2)
ftext(13, 1155, '工作年龄人口增长', fontsize=10.5, color='#222222')

# ---------------- panel 8 ----------------
ax = add_ax(413, 903, 638, 1097)
style(ax)
ax2 = ax.twinx()
style_right(ax2)
ax2.plot(np.linspace(2023.03, 2024.578, len(continuing_claims)), continuing_claims,
         color=NAVY, lw=1.6, dashes=(4, 3))
ax.plot(np.linspace(2023.005, 2024.58, len(initial_claims)), initial_claims, color=RED, lw=1.6)
ax.set_zorder(ax2.get_zorder() + 1)
ax.set_xlim(2023.0, 2024.64)
ax.set_ylim(186900, 273100)
ax.set_yticks(range(190000, 270001, 10000))
ax2.set_ylim(1.6143, 1.9107)
ax2.set_yticks(np.arange(1.625, 1.9001, 0.025))
ax2.set_yticklabels([f'{v:.3f}' for v in np.arange(1.625, 1.9001, 0.025)])
mid_year_labels(ax, [2024.0], [2023.5, 2024.32], ['2023', '2024'])
ftext(636, 910, '百万人', ha='right')
legend([red_h(), navy_h()], ['首次申请失业金人数', '持续申请失业金人数，rhs'], 527, 1123, 2)
ftext(362, 1155, '初次申请失业金', fontsize=10.5, color='#222222')

# ---------------- panel 9 ----------------
ax = add_ax(52, 1203, 320, 1384)
style(ax)
ax.scatter(*xy(bev_2000_2008), marker='s', s=11, color='#eb9cad', lw=0)
ax.scatter(*xy(bev_2009_2019), marker='o', s=13, color='#8b91a8', lw=0)
ax.scatter(*xy(bev_2020_on), marker='o', s=6, color='#f4d49c', lw=0)
ax.scatter([bev_latest[0]], [bev_latest[1]], marker='^', s=75, color='#f0a21e', lw=0, zorder=5)
ax.set_xlim(2.72, 15.33)
ax.set_ylim(0.71, 8.29)
ax.set_xticks(range(3, 16))
ax.set_yticks(range(1, 9))
ax.annotate('', xy=(15.4, 8.08), xytext=(2.97, 8.08), annotation_clip=False,
            arrowprops=dict(arrowstyle='->', lw=1.6, color='#222222', mutation_scale=14, shrinkA=0, shrinkB=0))
ax.annotate('', xy=(3.0, 0.85), xytext=(3.0, 8.08), annotation_clip=False,
            arrowprops=dict(arrowstyle='->', lw=1.6, color='#222222', mutation_scale=14, shrinkA=0, shrinkB=0))
ax.text(14.2, 7.5, '硬着陆', fontsize=6.5, ha='center', va='center', color='#333333')
ax.text(3.45, 1.2, '软着陆', fontsize=6.5, ha='left', va='center', color='#333333')
ax.set_ylabel('职位空缺率（%）', fontsize=6.5, labelpad=3, color='#333333')
ax.set_xlabel('失业率（%）', fontsize=6.5, labelpad=2, color='#333333')
h9 = [Line2D([], [], ls='none', marker='s', ms=4, mfc='#eb9cad', mec='none'),
      Line2D([], [], ls='none', marker='o', ms=4, mfc='#8b91a8', mec='none'),
      Line2D([], [], ls='none', marker='o', ms=2.5, mfc='#f4d49c', mec='none'),
      Line2D([], [], ls='none', marker='^', ms=8, mfc='#f0a21e', mec='none')]
fig.legend(h9, ['2000-2008', '2009-2019', '2020-', '最新值'], loc='center',
           bbox_to_anchor=(180 / W, 1 - 1424 / H), ncol=4, frameon=False, fontsize=7.5,
           handlelength=1.0, handletextpad=0.4, columnspacing=1.2, borderaxespad=0, borderpad=0,
           prop={'family': ['DejaVu Sans', 'Noto Sans CJK SC'], 'size': 7.5})
ftext(13, 1462, '贝弗里奇曲线', fontsize=10.5, color='#222222')

# ---------------- panel 10 ----------------
ax = add_ax(393, 1203, 661, 1383)
style(ax)
ax.bar(np.arange(len(nfp_bars)) + 0.5, nfp_bars, width=1.0, color='#d6dfeb', lw=0)
ax.set_xlim(-0.42, 24.24)
ax.set_ylim(0, 52.3)
ax.set_yticks(range(0, 51, 5))
mid_year_labels(ax, range(0, 25), np.arange(24) + 0.5, nfp_month_labels)
ax.tick_params(axis='x', which='minor', pad=2)
for t, yl in [(1.8, '2022'), (10.0, '2023'), (20.1, '2024')]:
    ax.text(t, -0.15, yl, transform=ax.get_xaxis_transform(), ha='center', va='center',
            fontsize=8, color='#333333')
ax2 = ax.twinx()
style_right(ax2)
ax2.plot(np.linspace(-0.05, 23.63, len(postings_weekly)), postings_weekly, color=RED, lw=0.8, dashes=(2.5, 1.8))
ax2.plot(np.linspace(-0.11, 23.57, len(postings_smooth)), postings_smooth, color=RED, lw=2.0)
ax2.set_ylim(-32.5, 32.9)
ax2.set_yticks(range(-30, 31, 10))
ftext(398, 1211, '万人')
ftext(655, 1211, '较2020年1月变化%', ha='right')
bar_h = Line2D([], [], ls='none', marker='s', ms=7, mfc='#d6dfeb', mec='none')
wk_h = Line2D([], [], color=RED, lw=0.9, dashes=(2.5, 1.8))
legend([bar_h, wk_h], ['新增非农', '新工作发布（-4W），rhs'], 520, 1424, 2)
ftext(362, 1462, '新工作发布', fontsize=10.5, color='#222222')

# ---------------- panel 11 ----------------
ax = add_ax(46, 1487, 320, 1664)
style(ax)
ex, ev = xy(reported_eps)
ax.plot(ex, ev, color='#e9b13a', lw=1.6, dashes=(6, 4), drawstyle='steps-post')
fx2, fv2 = xy(fwd_eps)
ax.plot(fx2, fv2, color=NAVY, lw=1.6, dashes=(4, 3))
ox, ov = xy(openings_yoy)
ax.plot(ox, ov, color=RED, lw=1.6)
ax.set_xlim(2018.18, 2026.54)
ax.set_ylim(-81.8, 81.2)
ax.set_yticks(range(-75, 76, 25))
mid_year_labels(ax, range(2019, 2027),
                [2018.55, 2019.5, 2020.5, 2021.5, 2022.5, 2023.5, 2024.5, 2025.5, 2026.3],
                ['2018', '2019', '2020', '2021', '2022', '2023', '2024', '2025', '2026'])
ftext(48, 1494, '%', fontsize=6.5)
eps_h = Line2D([], [], color='#e9b13a', lw=1.6, dashes=(4, 3))
legend([red_h(), eps_h, navy_h()], ['职位空缺数同比', '报告EPS（领先4个月）', '12个月远期EPS'],
       70, 1681, 2, loc='upper left')
ftext(13, 1746, '职位空缺数同比与 EPS', fontsize=10.5, color='#222222')

ftext(682, 1770, '资料来源：Macrobond，兴业研究', ha='right', fontsize=8.5, color='#777777',
      family=['Noto Sans CJK SC'])

fig.savefig('out.png', dpi=100)
